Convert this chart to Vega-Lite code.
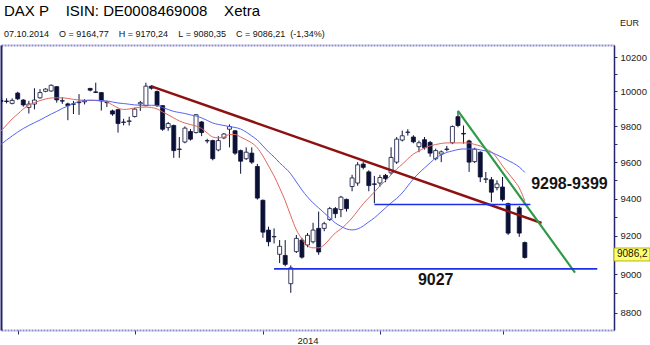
{
  "$schema": "https://vega.github.io/schema/vega-lite/v6.json",
  "width": 613,
  "height": 285,
  "padding": {"left": 1, "top": 4, "right": 0, "bottom": 0},
  "background": "#ffffff",
  "config": {"view": {"stroke": null}, "font": "Liberation Sans"},
  "title": {
    "text": "DAX\u00a0P\u00a0\u00a0\u00a0\u00a0ISIN:\u00a0DE0008469008\u00a0\u00a0\u00a0\u00a0Xetra",
    "subtitle": "07.10.2014\u00a0\u00a0\u00a0\u00a0O\u00a0=\u00a09164,77\u00a0\u00a0\u00a0\u00a0H\u00a0=\u00a09170,24\u00a0\u00a0\u00a0\u00a0L\u00a0=\u00a09080,35\u00a0\u00a0\u00a0\u00a0C\u00a0=\u00a09086,21\u00a0\u00a0(-1,34%)",
    "anchor": "start",
    "frame": "group",
    "fontSize": 15,
    "fontWeight": "normal",
    "color": "#000000",
    "subtitleFontSize": 9,
    "subtitleColor": "#111111",
    "subtitlePadding": 11,
    "offset": -21,
    "dx": 3
  },
  "datasets": {
    "ohlc": [
      {"d":"2014-05-28","o":9948,"h":9962,"l":9925,"c":9942,"mr":9774,"mb":9699},
      {"d":"2014-05-29","o":9944,"h":9960,"l":9931,"c":9942,"mr":9808,"mb":9723},
      {"d":"2014-05-30","o":9931,"h":9960,"l":9925,"c":9948,"mr":9842,"mb":9746},
      {"d":"2014-06-02","o":9990,"h":9998,"l":9950,"c":9957,"mr":9870,"mb":9768},
      {"d":"2014-06-03","o":9950,"h":9955,"l":9912,"c":9922,"mr":9899,"mb":9788},
      {"d":"2014-06-04","o":9908,"h":9945,"l":9873,"c":9927,"mr":9922,"mb":9805},
      {"d":"2014-06-05","o":9927,"h":10018,"l":9897,"c":9950,"mr":9935,"mb":9821},
      {"d":"2014-06-06","o":9963,"h":10013,"l":9958,"c":9993,"mr":9947,"mb":9836},
      {"d":"2014-06-09","o":10000,"h":10018,"l":9995,"c":10013,"mr":9956,"mb":9853},
      {"d":"2014-06-10","o":10002,"h":10040,"l":9998,"c":10035,"mr":9962,"mb":9870},
      {"d":"2014-06-11","o":10027,"h":10030,"l":9935,"c":9951,"mr":9963,"mb":9885},
      {"d":"2014-06-12","o":9946,"h":9966,"l":9928,"c":9944,"mr":9963,"mb":9902},
      {"d":"2014-06-13","o":9928,"h":9935,"l":9835,"c":9918,"mr":9959,"mb":9916},
      {"d":"2014-06-16","o":9928,"h":9945,"l":9870,"c":9926,"mr":9954,"mb":9930},
      {"d":"2014-06-17","o":9935,"h":9984,"l":9865,"c":9937,"mr":9950,"mb":9942},
      {"d":"2014-06-18","o":9940,"h":9955,"l":9925,"c":9946,"mr":9949,"mb":9946},
      {"d":"2014-06-19","o":10017,"h":10020,"l":10000,"c":10007,"mr":9949,"mb":9949},
      {"d":"2014-06-20","o":9997,"h":10050,"l":9990,"c":9994,"mr":9947,"mb":9949},
      {"d":"2014-06-23","o":9993,"h":9995,"l":9890,"c":9945,"mr":9945,"mb":9947},
      {"d":"2014-06-24","o":9937,"h":9945,"l":9910,"c":9935,"mr":9939,"mb":9945},
      {"d":"2014-06-25","o":9888,"h":9895,"l":9860,"c":9870,"mr":9922,"mb":9939},
      {"d":"2014-06-26","o":9895,"h":9900,"l":9765,"c":9816,"mr":9905,"mb":9933},
      {"d":"2014-06-27","o":9822,"h":9843,"l":9806,"c":9825,"mr":9896,"mb":9930},
      {"d":"2014-06-30","o":9828,"h":9855,"l":9805,"c":9831,"mr":9899,"mb":9926},
      {"d":"2014-07-01","o":9856,"h":9905,"l":9850,"c":9898,"mr":9905,"mb":9922},
      {"d":"2014-07-02","o":9928,"h":9945,"l":9888,"c":9935,"mr":9909,"mb":9920},
      {"d":"2014-07-03","o":9918,"h":10050,"l":9915,"c":10030,"mr":9910,"mb":9920},
      {"d":"2014-07-04","o":10030,"h":10035,"l":10010,"c":10018,"mr":9907,"mb":9920},
      {"d":"2014-07-07","o":9999,"h":10005,"l":9910,"c":9918,"mr":9899,"mb":9919},
      {"d":"2014-07-08","o":9918,"h":9920,"l":9775,"c":9784,"mr":9882,"mb":9907},
      {"d":"2014-07-09","o":9793,"h":9825,"l":9775,"c":9816,"mr":9865,"mb":9896},
      {"d":"2014-07-10","o":9805,"h":9810,"l":9624,"c":9664,"mr":9848,"mb":9885},
      {"d":"2014-07-11","o":9670,"h":9740,"l":9624,"c":9673,"mr":9831,"mb":9879},
      {"d":"2014-07-14","o":9712,"h":9800,"l":9705,"c":9790,"mr":9819,"mb":9873},
      {"d":"2014-07-15","o":9771,"h":9785,"l":9720,"c":9728,"mr":9810,"mb":9865},
      {"d":"2014-07-16","o":9765,"h":9870,"l":9760,"c":9866,"mr":9802,"mb":9859},
      {"d":"2014-07-17","o":9825,"h":9830,"l":9745,"c":9765,"mr":9788,"mb":9848},
      {"d":"2014-07-18","o":9718,"h":9730,"l":9705,"c":9720,"mr":9763,"mb":9834},
      {"d":"2014-07-21","o":9720,"h":9725,"l":9610,"c":9619,"mr":9740,"mb":9819},
      {"d":"2014-07-22","o":9668,"h":9745,"l":9660,"c":9720,"mr":9735,"mb":9811},
      {"d":"2014-07-23","o":9735,"h":9762,"l":9728,"c":9757,"mr":9740,"mb":9805},
      {"d":"2014-07-24","o":9784,"h":9811,"l":9682,"c":9799,"mr":9754,"mb":9799},
      {"d":"2014-07-25","o":9775,"h":9780,"l":9640,"c":9650,"mr":9754,"mb":9794},
      {"d":"2014-07-28","o":9664,"h":9670,"l":9536,"c":9605,"mr":9740,"mb":9785},
      {"d":"2014-07-29","o":9619,"h":9682,"l":9612,"c":9655,"mr":9724,"mb":9768},
      {"d":"2014-07-30","o":9650,"h":9682,"l":9590,"c":9600,"mr":9707,"mb":9746},
      {"d":"2014-07-31","o":9576,"h":9590,"l":9395,"c":9403,"mr":9679,"mb":9723},
      {"d":"2014-08-01","o":9391,"h":9395,"l":9190,"c":9220,"mr":9634,"mb":9690},
      {"d":"2014-08-04","o":9231,"h":9249,"l":9145,"c":9169,"mr":9579,"mb":9657},
      {"d":"2014-08-05","o":9195,"h":9240,"l":9160,"c":9197,"mr":9524,"mb":9629},
      {"d":"2014-08-06","o":9103,"h":9178,"l":9057,"c":9145,"mr":9458,"mb":9596},
      {"d":"2014-08-07","o":9097,"h":9178,"l":9040,"c":9050,"mr":9388,"mb":9568},
      {"d":"2014-08-08","o":8950,"h":9045,"l":8903,"c":9032,"mr":9307,"mb":9535},
      {"d":"2014-08-11","o":9117,"h":9205,"l":9110,"c":9187,"mr":9232,"mb":9491},
      {"d":"2014-08-12","o":9178,"h":9190,"l":9080,"c":9088,"mr":9184,"mb":9447},
      {"d":"2014-08-13","o":9152,"h":9215,"l":9140,"c":9203,"mr":9147,"mb":9409},
      {"d":"2014-08-14","o":9169,"h":9270,"l":9160,"c":9231,"mr":9137,"mb":9377},
      {"d":"2014-08-15","o":9240,"h":9330,"l":9100,"c":9115,"mr":9137,"mb":9350},
      {"d":"2014-08-18","o":9240,"h":9275,"l":9225,"c":9265,"mr":9153,"mb":9323},
      {"d":"2014-08-19","o":9287,"h":9355,"l":9280,"c":9346,"mr":9184,"mb":9296},
      {"d":"2014-08-20","o":9346,"h":9355,"l":9295,"c":9319,"mr":9216,"mb":9269},
      {"d":"2014-08-21","o":9341,"h":9415,"l":9300,"c":9408,"mr":9237,"mb":9251},
      {"d":"2014-08-22","o":9396,"h":9400,"l":9330,"c":9346,"mr":9264,"mb":9237},
      {"d":"2014-08-25","o":9466,"h":9530,"l":9440,"c":9513,"mr":9296,"mb":9232},
      {"d":"2014-08-26","o":9485,"h":9600,"l":9470,"c":9585,"mr":9334,"mb":9237},
      {"d":"2014-08-27","o":9589,"h":9600,"l":9560,"c":9571,"mr":9372,"mb":9253},
      {"d":"2014-08-28","o":9546,"h":9555,"l":9440,"c":9471,"mr":9404,"mb":9275},
      {"d":"2014-08-29","o":9480,"h":9524,"l":9375,"c":9478,"mr":9436,"mb":9296},
      {"d":"2014-09-01","o":9485,"h":9530,"l":9465,"c":9515,"mr":9469,"mb":9323},
      {"d":"2014-09-02","o":9527,"h":9535,"l":9490,"c":9509,"mr":9497,"mb":9350},
      {"d":"2014-09-03","o":9541,"h":9682,"l":9530,"c":9626,"mr":9530,"mb":9377},
      {"d":"2014-09-04","o":9600,"h":9740,"l":9590,"c":9728,"mr":9562,"mb":9401},
      {"d":"2014-09-05","o":9723,"h":9776,"l":9715,"c":9747,"mr":9588,"mb":9431},
      {"d":"2014-09-08","o":9766,"h":9784,"l":9748,"c":9768,"mr":9618,"mb":9469},
      {"d":"2014-09-09","o":9740,"h":9750,"l":9705,"c":9713,"mr":9645,"mb":9507},
      {"d":"2014-09-10","o":9686,"h":9720,"l":9655,"c":9708,"mr":9662,"mb":9540},
      {"d":"2014-09-11","o":9725,"h":9740,"l":9670,"c":9680,"mr":9679,"mb":9568},
      {"d":"2014-09-12","o":9710,"h":9718,"l":9630,"c":9650,"mr":9690,"mb":9596},
      {"d":"2014-09-15","o":9619,"h":9675,"l":9610,"c":9664,"mr":9698,"mb":9623},
      {"d":"2014-09-16","o":9645,"h":9665,"l":9600,"c":9657,"mr":9704,"mb":9640},
      {"d":"2014-09-17","o":9670,"h":9690,"l":9660,"c":9673,"mr":9707,"mb":9654},
      {"d":"2014-09-18","o":9708,"h":9805,"l":9700,"c":9799,"mr":9707,"mb":9662},
      {"d":"2014-09-19","o":9855,"h":9888,"l":9795,"c":9805,"mr":9707,"mb":9670},
      {"d":"2014-09-22","o":9760,"h":9805,"l":9703,"c":9757,"mr":9707,"mb":9673},
      {"d":"2014-09-23","o":9718,"h":9725,"l":9546,"c":9600,"mr":9707,"mb":9673},
      {"d":"2014-09-24","o":9603,"h":9680,"l":9595,"c":9672,"mr":9698,"mb":9673},
      {"d":"2014-09-25","o":9655,"h":9660,"l":9490,"c":9518,"mr":9690,"mb":9668},
      {"d":"2014-09-26","o":9505,"h":9546,"l":9485,"c":9508,"mr":9673,"mb":9662},
      {"d":"2014-09-29","o":9503,"h":9518,"l":9381,"c":9435,"mr":9657,"mb":9654},
      {"d":"2014-09-30","o":9460,"h":9500,"l":9445,"c":9480,"mr":9623,"mb":9640},
      {"d":"2014-10-01","o":9463,"h":9518,"l":9385,"c":9395,"mr":9579,"mb":9626},
      {"d":"2014-10-02","o":9373,"h":9378,"l":9205,"c":9215,"mr":9540,"mb":9609},
      {"d":"2014-10-03","o":null,"h":null,"l":null,"c":null,"mr":9502,"mb":9593},
      {"d":"2014-10-06","o":9350,"h":9360,"l":9195,"c":9215,"mr":9458,"mb":9573},
      {"d":"2014-10-07","o":9164.77,"h":9170.24,"l":9080.35,"c":9086.21,"mr":9388,"mb":9543}
    ],
    "lines": [
      {"name":"trend","d":"2014-07-04","p":10029},
      {"name":"trend","d":"2014-10-10","p":9269},
      {"name":"fall","d":"2014-09-19","p":9888},
      {"name":"fall","d":"2014-10-20","p":9007},
      {"name":"s1","d":"2014-08-05","p":9027},
      {"name":"s1","d":"2014-10-24","p":9027},
      {"name":"s2","d":"2014-08-29","p":9368},
      {"name":"s2","d":"2014-10-08","p":9368}
    ],
    "notes": [
      {"d":"2014-10-17","p":9480,"label":"9298-9399"},
      {"d":"2014-09-15","p":8970,"label":"9027"}
    ],
    "tag": [
      {"d":"2014-10-29","p":9086.2,"label":"9086,2"}
    ]
  },
  "layer": [
    {
      "data": {"name": "ohlc"},
      "mark": {"type": "rule", "color": "#0d1238", "strokeWidth": 1, "clip": true},
      "encoding": {
        "x": {
          "field": "d", "type": "ordinal",
          "scale": {"type": "point", "padding": 0, "domain": [
            "2014-05-28","2014-05-29","2014-05-30",
            "2014-06-02","2014-06-03","2014-06-04","2014-06-05","2014-06-06",
            "2014-06-09","2014-06-10","2014-06-11","2014-06-12","2014-06-13",
            "2014-06-16","2014-06-17","2014-06-18","2014-06-19","2014-06-20",
            "2014-06-23","2014-06-24","2014-06-25","2014-06-26","2014-06-27","2014-06-30",
            "2014-07-01","2014-07-02","2014-07-03","2014-07-04",
            "2014-07-07","2014-07-08","2014-07-09","2014-07-10","2014-07-11",
            "2014-07-14","2014-07-15","2014-07-16","2014-07-17","2014-07-18",
            "2014-07-21","2014-07-22","2014-07-23","2014-07-24","2014-07-25",
            "2014-07-28","2014-07-29","2014-07-30","2014-07-31",
            "2014-08-01","2014-08-04","2014-08-05","2014-08-06","2014-08-07","2014-08-08",
            "2014-08-11","2014-08-12","2014-08-13","2014-08-14","2014-08-15",
            "2014-08-18","2014-08-19","2014-08-20","2014-08-21","2014-08-22",
            "2014-08-25","2014-08-26","2014-08-27","2014-08-28","2014-08-29",
            "2014-09-01","2014-09-02","2014-09-03","2014-09-04","2014-09-05",
            "2014-09-08","2014-09-09","2014-09-10","2014-09-11","2014-09-12",
            "2014-09-15","2014-09-16","2014-09-17","2014-09-18","2014-09-19",
            "2014-09-22","2014-09-23","2014-09-24","2014-09-25","2014-09-26",
            "2014-09-29","2014-09-30",
            "2014-10-01","2014-10-02","2014-10-03",
            "2014-10-06","2014-10-07","2014-10-08","2014-10-09","2014-10-10",
            "2014-10-13","2014-10-14","2014-10-15","2014-10-16","2014-10-17",
            "2014-10-20","2014-10-21","2014-10-22","2014-10-23","2014-10-24",
            "2014-10-27","2014-10-28","2014-10-29"
          ]},
          "axis": {
            "orient": "bottom",
            "values": ["2014-06-02","2014-07-01","2014-08-01","2014-09-01","2014-10-01"],
            "labels": false, "ticks": true, "tickSize": 4, "tickColor": "#2a2a80", "tickWidth": 1,
            "domain": true, "domainColor": "#8c8cd0", "domainWidth": 2, "domainDash": [2, 1],
            "grid": false,
            "title": "2014", "titleFontSize": 9.5, "titleFontWeight": "normal", "titleColor": "#222222", "titlePadding": 1
          }
        },
        "y": {
          "field": "l", "type": "quantitative",
          "scale": {"type": "log", "domain": [8714, 10271], "nice": false, "zero": false},
          "axis": {
            "orient": "right",
            "values": [8800,8900,9000,9100,9200,9300,9400,9500,9600,9700,9800,9900,10000,10100,10200],
            "format": "d",
            "labelExpr": "datum.value % 200 === 0 ? datum.label : ''",
            "labelOverlap": false,
            "tickSize": 3, "tickColor": "#2a2a80",
            "domainColor": "#23236e", "domainWidth": 1.5,
            "labelFontSize": 9.5, "labelColor": "#222222", "labelPadding": 3,
            "grid": false,
            "title": "EUR", "titleAngle": 0, "titleX": 15, "titleY": -20,
            "titleAlign": "center", "titleBaseline": "alphabetic",
            "titleFontSize": 9, "titleFontWeight": "normal", "titleColor": "#222222"
          }
        },
        "y2": {"field": "h"}
      }
    },
    {
      "data": {"name": "ohlc"},
      "mark": {"type": "bar", "size": 4, "stroke": "#0d1238", "strokeWidth": 0.8, "clip": true},
      "encoding": {
        "x": {
          "field": "d", "type": "ordinal",
          "axis": {
            "orient": "top", "labels": false, "ticks": false,
            "domain": true, "domainColor": "#8c8cd0", "domainWidth": 2, "domainDash": [2, 1],
            "grid": false, "title": null
          }
        },
        "y": {
          "field": "o", "type": "quantitative",
          "scale": {"type": "log", "domain": [8714, 10271], "nice": false, "zero": false},
          "axis": {
            "orient": "left", "labels": false, "ticks": false,
            "domain": true, "domainColor": "#23236e", "domainWidth": 2,
            "grid": false, "title": null
          }
        },
        "y2": {"field": "c"},
        "fill": {"condition": {"test": "datum.c < datum.o", "value": "#0b1035"}, "value": "#ffffff"}
      }
    },
    {
      "data": {"name": "ohlc"},
      "mark": {"type": "line", "color": "#e0675c", "strokeWidth": 1, "interpolate": "monotone", "clip": true},
      "encoding": {
        "x": {"field": "d", "type": "ordinal", "axis": null},
        "y": {"field": "mr", "type": "quantitative", "scale": {"type": "log", "domain": [8714, 10271], "nice": false, "zero": false}, "axis": null}
      }
    },
    {
      "data": {"name": "ohlc"},
      "mark": {"type": "line", "color": "#5664f0", "strokeWidth": 1, "interpolate": "monotone", "clip": true},
      "encoding": {
        "x": {"field": "d", "type": "ordinal", "axis": null},
        "y": {"field": "mb", "type": "quantitative", "scale": {"type": "log", "domain": [8714, 10271], "nice": false, "zero": false}, "axis": null}
      }
    },
    {
      "data": {"name": "lines"},
      "mark": {"type": "line", "strokeCap": "butt"},
      "encoding": {
        "x": {"field": "d", "type": "ordinal", "axis": null},
        "y": {"field": "p", "type": "quantitative", "scale": {"type": "log", "domain": [8714, 10271], "nice": false, "zero": false}, "axis": null},
        "detail": {"field": "name", "type": "nominal"},
        "color": {"field": "name", "type": "nominal", "legend": null,
          "scale": {"domain": ["trend", "fall", "s1", "s2"], "range": ["#8e1111", "#2f9a46", "#1f2fe6", "#1f2fe6"]}},
        "strokeWidth": {"field": "name", "type": "ordinal", "legend": null,
          "scale": {"domain": ["trend", "fall", "s1", "s2"], "range": [2.5, 1.5, 2, 2]}}
      }
    },
    {
      "data": {"name": "notes"},
      "mark": {"type": "text", "fontSize": 16, "fontWeight": "bold", "color": "#151515", "align": "center", "baseline": "middle"},
      "encoding": {
        "x": {"field": "d", "type": "ordinal", "axis": null},
        "y": {"field": "p", "type": "quantitative", "scale": {"type": "log", "domain": [8714, 10271], "nice": false, "zero": false}, "axis": null},
        "text": {"field": "label"}
      }
    },
    {
      "data": {"name": "tag"},
      "mark": {"type": "point", "shape": "M0,-0.36H2V0.36H0Z", "size": 1296, "filled": true, "color": "#ffff70", "stroke": "#a0a000", "strokeWidth": 0.8, "opacity": 1},
      "encoding": {
        "x": {"field": "d", "type": "ordinal", "axis": null},
        "y": {"field": "p", "type": "quantitative", "scale": {"type": "log", "domain": [8714, 10271], "nice": false, "zero": false}, "axis": null},
        "yOffset": {"value": -3}
      }
    },
    {
      "data": {"name": "tag"},
      "mark": {"type": "text", "fontSize": 10, "color": "#111111", "align": "left", "baseline": "middle", "dx": 3},
      "encoding": {
        "x": {"field": "d", "type": "ordinal", "axis": null},
        "y": {"field": "p", "type": "quantitative", "scale": {"type": "log", "domain": [8714, 10271], "nice": false, "zero": false}, "axis": null},
        "yOffset": {"value": -3},
        "text": {"field": "label"}
      }
    }
  ],
  "resolve": {"axis": {"x": "independent", "y": "independent"}}
}
